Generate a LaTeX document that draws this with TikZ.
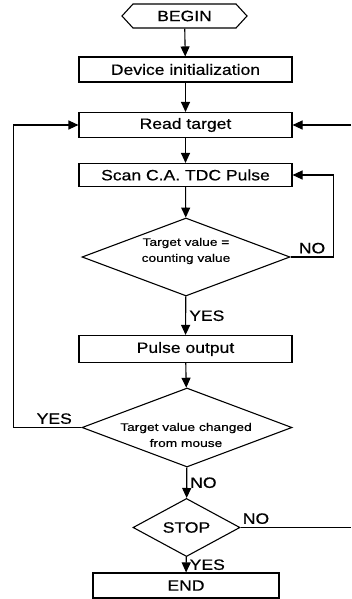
\documentclass[tikz,border=0pt]{standalone}
\usepackage{fontspec}
\setmainfont{Liberation Sans}[FakeStretch=1.17,FakeBold=0.6]
\newfontfamily\decfont{Liberation Sans}[FakeStretch=1.25,FakeBold=0.4]
\usetikzlibrary{arrows.meta,shapes.geometric,shapes.symbols}
\begin{document}
\begin{tikzpicture}[x=1pt,y=-1pt,line width=1.1pt,
  txt/.style={font=\fontsize{15}{18}\selectfont},
  box/.style={draw, rectangle, minimum width=213pt, minimum height=25pt, inner sep=0pt, txt},
  dec/.style={draw, diamond, inner sep=0pt},
  dtxt/.style={font=\decfont\fontsize{11}{16}\selectfont, align=center, inner sep=0pt},
  lbl/.style={txt, inner sep=3pt},
  arr/.style={-{Triangle[length=10pt,width=9pt]}}]
\useasboundingbox (0,0) rectangle (351,599);
\node[draw, signal, signal to=west and east, signal pointer angle=95,
      minimum width=125pt, minimum height=24pt, inner sep=0pt, txt] (begin) at (184.5,16) {BEGIN};
\node[box] (init) at (185.5,69.5) {Device initialization};
\node[box] (read) at (185.5,125) {Read target};
\node[box, minimum height=23pt] (scan) at (185.5,175) {Scan C.A. TDC Pulse};
\node[dec, minimum width=208pt, minimum height=78pt] (d1) at (186,257) {};
\node[dtxt] (d1t) at (186,251) {Target value =\\counting value};
\node[box, minimum height=27pt] (pulse) at (185.5,349) {Pulse output};
\node[dec, minimum width=210pt, minimum height=79pt] (d2) at (187,427.5) {};
\node[dtxt] (d2t) at (186,435) {Target value changed\\from mouse};
\node[dec, minimum width=107pt, minimum height=39pt, txt] (stop) at (186.5,527.5) {STOP};
\node[box, minimum width=186pt] (end) at (186,585.5) {END};
\coordinate (edgeA) at (351,527.5);
\coordinate (edgeB) at (351,125);

\draw[arr] (begin) -- (init);
\draw[arr] (init) -- (read);
\draw[arr] (read) -- (scan);
\draw[arr] (scan) -- (d1);
\draw[arr] (d1) -- node[lbl, right] (y1) {YES} (pulse);
\draw[arr] (d1.east) -- node[lbl, above] (n1) {NO} ++(43,0) |- (scan.east);
\draw[arr] (pulse) -- (d2);
\draw[arr] (d2.west) -- node[lbl, above, pos=0.4] (y2) {YES} ++(-68,0) |- (read.west);
\draw[arr] (d2) -- node[lbl, right] (n2) {NO} (stop);
\draw[arr] (stop) -- node[lbl, right] (y3) {YES} (end);
\draw (stop.east) -- node[lbl, above, pos=0.14] (n3) {NO} (edgeA);
\draw[arr] (edgeB) -- (read.east);
\end{tikzpicture}
\end{document}
